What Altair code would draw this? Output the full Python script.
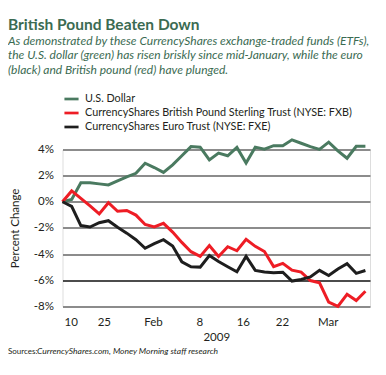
import altair as alt
import pandas as pd

# trading-day index (34 sessions, Jan 9 .. early Mar 2009)
day = list(range(34))
usd = [0, 0.18, 1.46, 1.46, 1.37, 1.29, 1.60, 1.91, 2.18, 2.95,
       2.62, 2.25, 2.83, 3.52, 4.22, 4.18, 3.20, 3.72, 3.52, 4.16,
       2.97, 4.18, 4.02, 4.29, 4.28, 4.74, 4.48, 4.22, 4.01, 4.56,
       3.90, 3.33, 4.25, 4.25]
gbp = [0, 0.83, 0.26, -0.31, -0.93, -0.07, -0.73, -0.67, -1.02, -1.74,
       -1.93, -1.65, -2.32, -3.11, -3.82, -4.18, -3.35, -4.19, -3.44, -3.75,
       -2.87, -3.41, -3.81, -4.96, -4.71, -5.23, -5.38, -6.03, -6.20, -7.68,
       -8.01, -7.08, -7.56, -6.85]
eur = [0, -0.35, -1.82, -1.93, -1.60, -1.45, -1.95, -2.40, -2.90, -3.56,
       -3.20, -2.90, -3.39, -4.60, -4.97, -5.00, -4.11, -4.57, -4.97, -5.36,
       -4.18, -5.25, -5.38, -5.43, -5.39, -6.07, -5.95, -5.75, -5.25, -5.65,
       -5.15, -4.74, -5.48, -5.26]

series_names = ["U.S. Dollar",
                "CurrencyShares British Pound Sterling Trust (NYSE: FXB)",
                "CurrencyShares Euro Trust (NYSE: FXE)"]
series_colors = ["#4a7a60", "#ee1d25", "#1e1e1e"]

x_tick_pos = [0.9, 4.5, 9.85, 14.9, 19.65, 23.9, 28.9]
x_tick_lab = ["10", "25", "Feb", "8", "16", "22", "Mar"]
y_ticks = [-8, -6, -4, -2, 0, 2, 4]

title_text = "British Pound Beaten Down"
subtitle_lines = [
    "As demonstrated by these CurrencyShares exchange-traded funds (ETFs),",
    "the U.S. dollar (green) has risen briskly since mid-January, while the euro",
    "(black) and British pound (red) have plunged.",
]
source_label = "Sources:"
source_text = "CurrencyShares.com, Money Morning staff research"

rows = []
for name, vals in zip(series_names, [usd, gbp, eur]):
    for d, v in zip(day, vals):
        rows.append({"day": d, "pct": v, "series": name})
df = pd.DataFrame(rows)

FONT = "Lato"
TXT = "#231f20"
GREEN = "#3b6b52"

label_expr = "[" + ",".join(f"'{l}'" for l in x_tick_lab) + "][indexof([" + \
    ",".join(str(p) for p in x_tick_pos) + "], datum.value)]"

lines = alt.Chart(df).mark_line(strokeWidth=3, strokeJoin="miter").encode(
    x=alt.X("day:Q",
            scale=alt.Scale(domain=[0, 33.5], nice=False, zero=False),
            axis=alt.Axis(values=x_tick_pos, labelExpr=label_expr, grid=False,
                          ticks=False, domain=False, labelPadding=10,
                          labelFont=FONT, labelFontSize=11.5, labelColor=TXT,
                          title="2009", titleFont=FONT, titleFontSize=11.5,
                          titleFontWeight="normal", titleColor=TXT,
                          titlePadding=4)),
    y=alt.Y("pct:Q",
            scale=alt.Scale(domain=[-8, 4], nice=False),
            axis=alt.Axis(values=y_ticks, labelExpr="datum.value + '%'",
                          ticks=False, domain=False, labelPadding=9,
                          labelFont=FONT, labelFontSize=11.5, labelColor=TXT,
                          gridColor=alt.condition("datum.value === -6",
                                                  alt.value("#111111"),
                                                  alt.value("#8c8c8c")),
                          gridWidth=alt.condition("datum.value === -6",
                                                  alt.value(1.3),
                                                  alt.value(2)),
                          title="Percent Change", titleFont=FONT,
                          titleFontSize=11.5, titleFontWeight="normal",
                          titleColor=TXT, titleAngle=270,
                          titleX=-47.5, titleY=78.4, titleAlign="center",
                          titleBaseline="middle")),
    color=alt.Color("series:N",
                    scale=alt.Scale(domain=series_names, range=series_colors),
                    sort=series_names,
                    legend=alt.Legend(orient="none", legendX=0.5, legendY=-59,
                                      title=None, symbolType="stroke",
                                      symbolSize=200, symbolStrokeWidth=2.7,
                                      labelFont=FONT, labelFontSize=10.8,
                                      labelColor=TXT, rowPadding=0,
                                      labelOffset=5, padding=0, labelLimit=0)),
    order=alt.Order("day:Q"),
)

src1 = alt.Chart(pd.DataFrame({"t": [source_label]})).mark_text(
    font=FONT, fontSize=8, color=TXT, align="left", baseline="alphabetic"
).encode(text="t:N", x=alt.value(-54.5), y=alt.value(204.5))

src2 = alt.Chart(pd.DataFrame({"t": [source_text]})).mark_text(
    font=FONT, fontSize=8.5, fontStyle="italic", color=TXT, align="left",
    baseline="alphabetic"
).encode(text="t:N", x=alt.value(-25.5), y=alt.value(204.5))

chart = alt.layer(lines, src1, src2).properties(
    width=307.5, height=156.8,
    autosize=alt.AutoSizeParams(type="none"),
    padding={"left": 54.5, "top": 141.5, "right": 8, "bottom": 60.7},
    title=alt.Title(title_text, subtitle=subtitle_lines, anchor="start",
                    frame="group", dx=-54.5, font=FONT, fontSize=15.5,
                    fontWeight="bold", color=GREEN, subtitleFont=FONT,
                    subtitleFontSize=12, subtitleFontStyle="italic",
                    subtitleColor=GREEN, subtitleLineHeight=14.5,
                    subtitlePadding=2, offset=15),
).configure_view(stroke=None).configure(background="white")

chart.save("out.html", embed_options={"renderer": "svg", "actions": False})
